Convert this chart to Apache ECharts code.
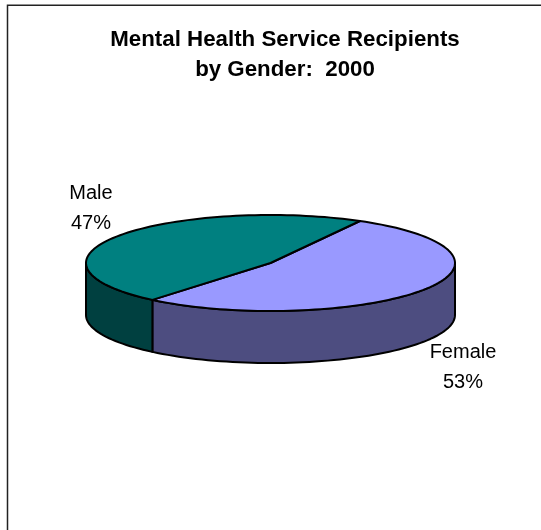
<!DOCTYPE html>
<html><head><meta charset="utf-8">
<style>html,body{margin:0;padding:0;background:#fff}#c{width:541px;height:530px}</style>
<script src="https://cdn.jsdelivr.net/npm/echarts@6/dist/echarts.min.js"></script>
</head><body><div id="c"></div>
<script>
const categories = ['Female', 'Male'];
const values = [53, 47];
const titleLines = 'Mental Health Service Recipients\nby Gender:  2000';
const topColors = ['#9999FF', '#008080'];
const sideColors = ['#4D4D80', '#004040'];
const labelPos = [[463, 367], [91, 208]];

const G = {cx: 270.5, cy: 263, rx: 184.5, ry: 48, depth: 52, start: 29};
const rad = d => d * Math.PI / 180;
const pt = (deg, dy) => [G.cx + G.rx * Math.sin(rad(deg)), G.cy - G.ry * Math.cos(rad(deg)) + (dy || 0)];
function arc(a, b, dy) {
  const out = [], n = Math.max(2, Math.ceil(Math.abs(b - a) / 2));
  for (let i = 0; i <= n; i++) out.push(pt(a + (b - a) * i / n, dy));
  return out;
}
const total = values.reduce((s, v) => s + v, 0);
const spans = [];
let acc = G.start;
values.forEach(v => { const sw = v / total * 360; spans.push([acc, acc + sw]); acc += sw; });

const line = {stroke: '#000', lineWidth: 2, lineJoin: 'round'};
function renderItem(params, api) {
  const i = api.value(0), s = spans[i], ch = [];
  const lo = Math.max(s[0], 90), hi = Math.min(s[1], 270);
  if (hi > lo) {
    const top = arc(lo, hi, 0), bot = arc(hi, lo, G.depth);
    ch.push({type: 'polygon', z2: 1, shape: {points: top.concat(bot)},
      style: Object.assign({fill: sideColors[i]}, line)});
  }
  const pts = [[G.cx, G.cy]].concat(arc(s[0], s[1], 0));
  ch.push({type: 'polygon', z2: 2, shape: {points: pts},
    style: Object.assign({fill: topColors[i]}, line)});
  return {type: 'group', children: ch};
}
const chart = echarts.init(document.getElementById('c'), null, {renderer: 'canvas'});
chart.setOption({
  backgroundColor: '#fff',
  animation: false,
  title: {text: titleLines, left: 280, top: 20, textAlign: 'center',
    textStyle: {fontFamily: 'Liberation Sans', fontSize: 22.3, fontWeight: 'bold', color: '#000', lineHeight: 30}},
  graphic: [{type: 'polyline', silent: true, z: -1,
    shape: {points: [[7.5, 530], [7.5, 5.25], [541, 5.25]]},
    style: {stroke: '#222', lineWidth: 1.5, fill: null}}],
  series: [{
    type: 'custom', coordinateSystem: 'none', renderItem, z: 2,
    data: values.map((v, i) => [i, v])
  }, {
    type: 'custom', coordinateSystem: 'none', z: 5,
    renderItem(params, api) {
      const i = api.value(0);
      return {type: 'text', x: labelPos[i][0], y: labelPos[i][1], style: {
        text: categories[i] + '\n' + values[i] + '%', align: 'center', verticalAlign: 'middle',
        fontFamily: 'Liberation Sans', fontSize: 20, lineHeight: 30, fill: '#000'}};
    },
    data: values.map((v, i) => [i, v])
  }]
});
</script></body></html>
